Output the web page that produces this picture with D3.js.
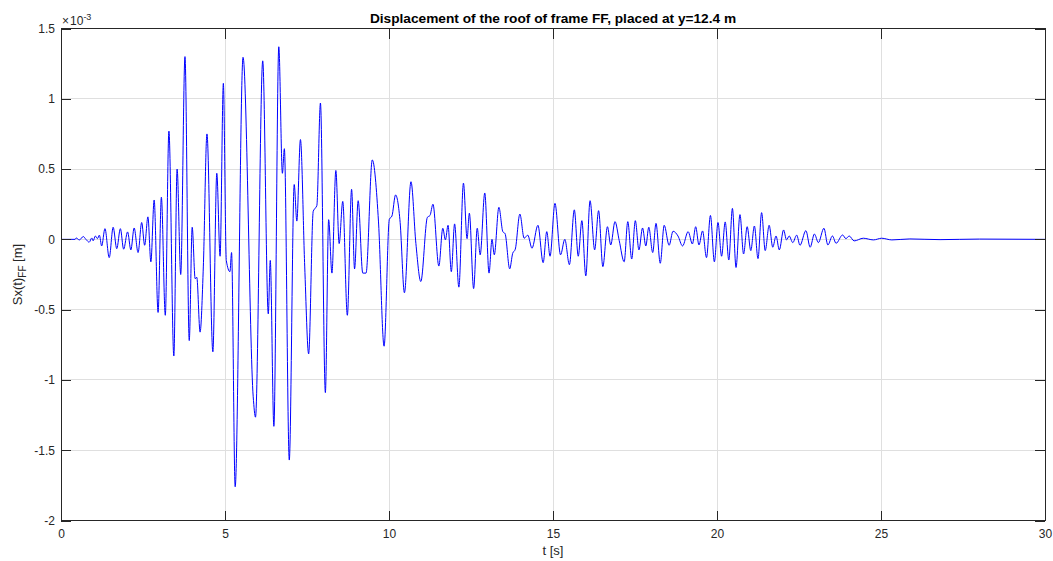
<!DOCTYPE html>
<html>
<head>
<meta charset="utf-8">
<script src="https://cdn.jsdelivr.net/npm/d3@7"></script>
<style>
  body { margin: 0; background: #fff; }
  svg text { font-family: "Liberation Sans", Arial, Helvetica, sans-serif; fill: #262626; }
</style>
</head>
<body>
<svg id="chart" width="1053" height="561"></svg>
<script>
// Roof displacement of frame FF (values in 1e-3 m)

const timeS = [
  0, 0.43, 0.46, 0.56, 0.68, 0.76, 0.86, 0.94, 0.98, 1.05, 1.11, 1.17, 1.24, 1.34, 1.47, 1.59,
  1.70, 1.81, 1.91, 2.03, 2.13, 2.23, 2.35, 2.46, 2.55, 2.65, 2.74, 2.84, 2.96, 3.06, 3.18, 3.29,
  3.44, 3.54, 3.65, 3.78, 3.91, 4.00, 4.09, 4.14, 4.24, 4.34, 4.45, 4.63, 4.75, 4.85, 4.95, 5.04,
  5.15, 5.20, 5.31, 5.55, 5.86, 5.93, 6.15, 6.32, 6.38, 6.49, 6.64, 6.75, 6.81, 6.96, 7.11, 7.19,
  7.30, 7.43, 7.55, 7.69, 7.80, 7.91, 8.06, 8.16, 8.26, 8.38, 8.48, 8.59, 8.73, 8.86, 8.95, 9.06,
  9.20, 9.30, 9.49, 9.68, 9.85, 10.01, 10.09, 10.20, 10.34, 10.47, 10.67, 10.82, 10.97, 11.17, 11.25, 11.34,
  11.52, 11.64, 11.72, 11.80, 11.90, 12.00, 12.13, 12.27, 12.38, 12.45, 12.58, 12.69, 12.78, 12.92, 13.05, 13.14,
  13.21, 13.35, 13.47, 13.54, 13.68, 13.77, 13.85, 13.99, 14.12, 14.23, 14.36, 14.54, 14.70, 14.81, 14.91, 15.06,
  15.23, 15.36, 15.50, 15.65, 15.77, 15.88, 16.00, 16.13, 16.27, 16.39, 16.52, 16.66, 16.76, 16.89, 17.02, 17.17,
  17.28, 17.40, 17.51, 17.62, 17.73, 17.83, 17.92, 18.04, 18.14, 18.27, 18.39, 18.54, 18.66, 18.81, 18.95, 19.12,
  19.25, 19.35, 19.45, 19.56, 19.68, 19.80, 19.92, 20.03, 20.14, 20.25, 20.36, 20.47, 20.58, 20.70, 20.81, 20.92,
  21.03, 21.14, 21.25, 21.36, 21.47, 21.59, 21.70, 21.80, 21.90, 22.03, 22.12, 22.20, 22.31, 22.43, 22.53, 22.71,
  22.84, 22.97, 23.09, 23.26, 23.38, 23.52, 23.63, 23.83, 23.93, 24.03, 24.18, 24.46, 24.77, 25.02, 25.33, 25.88,
  26.8, 28.0, 30
];

const dispE3 = [
  0, 0, 0.01, -0.004, 0.02, 0, -0.02, 0.01, -0.01, 0.024, 0.005, 0.03, -0.047, 0.076, -0.13, 0.086,
  -0.066, 0.076, -0.07, 0.053, -0.075, 0.081, -0.094, 0.12, -0.042, 0.16, -0.16, 0.28, -0.52, 0.30, -0.54, 0.77,
  -0.83, 0.50, -0.25, 1.30, -0.72, 0.086, -0.28, -0.27, -0.66, -0.19, 0.75, -0.80, 0.47, -0.12, 1.11, -0.15,
  -0.23, -0.094, -1.76, 1.295, -1.12, -1.265, 1.27, -0.53, -0.15, -1.33, 1.37, 0.47, 0.645, -1.57, 0.39, 0.13,
  0.71, -0.19, -0.815, 0.20, 0.24, 0.97, -1.09, 0.14, -0.24, 0.49, -0.03, 0.27, -0.54, 0.356, -0.21, 0.275,
  -0.24, -0.24, 0.565, 0.124, -0.76, 0.143, 0.166, 0.316, 0.12, -0.38, 0.41, -0.03, -0.30, 0.157, 0.17, 0.25,
  -0.19, 0.079, -0.004, 0.10, -0.23, 0.11, -0.34, 0.40, 0.005, 0.186, -0.35, 0.079, -0.11, 0.33, -0.24, 0.0,
  -0.11, 0.228, 0.055, 0.04, -0.21, -0.10, -0.07, 0.18, 0.008, 0.03, -0.063, 0.10, -0.166, 0.055, -0.12, 0.256,
  -0.11, 0.0, -0.18, 0.21, -0.12, 0.133, -0.26, 0.275, -0.075, 0.204, -0.194, 0.09, -0.04, 0.126, -0.01, -0.16,
  0.126, -0.14, 0.133, -0.075, 0.081, -0.047, 0.086, -0.094, 0.114, -0.17, 0.10, -0.042, 0.058, 0.024, -0.047, 0.055,
  -0.033, 0.09, -0.04, 0.06, -0.13, 0.17, -0.16, 0.12, -0.12, 0.124, -0.147, 0.22, -0.20, 0.176, -0.104, 0.09,
  -0.08, 0.095, -0.137, 0.19, -0.08, 0.10, -0.056, 0.024, -0.075, 0.067, -0.004, 0.024, -0.023, 0.03, -0.042, 0.062,
  -0.056, 0.038, -0.023, 0.079, -0.04, 0.024, -0.028, 0.031, 0.005, 0.024, -0.011, 0.008, -0.004, 0.008, -0.004, 0.003,
  -0.002, 0.002, 0
];

const xTicks = [0, 5, 10, 15, 20, 25, 30];
const yTicks = [-2, -1.5, -1, -0.5, 0, 0.5, 1, 1.5];

const TITLE = "Displacement of the roof of frame FF, placed at y=12.4 m";

// Layout
const LEFT = 61, RIGHT = 1045, TOP = 28.5, BOTTOM = 520.5;
const TICK_LEN = 10;
const AXIS_COLOR = "#262626";
const GRID_COLOR = "#dfdfdf";

const svg = d3.select("#chart");

const x = d3.scaleLinear().domain([0, 30]).range([LEFT, RIGHT]);
const y = d3.scaleLinear().domain([-2, 1.5]).range([BOTTOM, TOP]);

const points = timeS.map((t, i) => ({ t: t, v: dispE3[i] }));

// Grid
const grid = svg.append("g").attr("class", "grid");
grid.selectAll("line.gx")
  .data(xTicks)
  .join("line")
  .attr("x1", d => x(d)).attr("x2", d => x(d))
  .attr("y1", TOP).attr("y2", BOTTOM)
  .attr("stroke", GRID_COLOR).attr("stroke-width", 1)
  .attr("shape-rendering", "crispEdges");
grid.selectAll("line.gy")
  .data(yTicks)
  .join("line")
  .attr("y1", d => y(d)).attr("y2", d => y(d))
  .attr("x1", LEFT).attr("x2", RIGHT)
  .attr("stroke", GRID_COLOR).attr("stroke-width", 1)
  .attr("shape-rendering", "crispEdges");

// Signal
const line = d3.line()
  .x(d => x(d.t))
  .y(d => y(d.v))
  .curve(d3.curveMonotoneX);

svg.append("path")
  .datum(points)
  .attr("fill", "none")
  .attr("stroke", "#0000ff")
  .attr("stroke-width", 1)
  .attr("stroke-linejoin", "round")
  .attr("d", line);

// Axes (ticks pointing inward, on all four sides)
const fmt = d => String(d);

function styleAxis(g) {
  g.select(".domain").remove();
  g.selectAll(".tick line").attr("stroke", AXIS_COLOR).attr("shape-rendering", "crispEdges");
  g.selectAll(".tick text")
    .attr("fill", AXIS_COLOR)
    .style("font-size", "12px")
    .style("font-family", "'Liberation Sans', Arial, sans-serif");
}

svg.append("g")
  .attr("transform", `translate(0,${BOTTOM})`)
  .call(d3.axisBottom(x).tickValues(xTicks).tickFormat(fmt).tickSize(-TICK_LEN).tickPadding(9))
  .call(styleAxis);

svg.append("g")
  .attr("transform", `translate(0,${TOP})`)
  .call(d3.axisTop(x).tickValues(xTicks).tickFormat("").tickSize(-TICK_LEN))
  .call(styleAxis);

svg.append("g")
  .attr("transform", `translate(${LEFT},0)`)
  .call(d3.axisLeft(y).tickValues(yTicks).tickFormat(fmt).tickSize(-TICK_LEN).tickPadding(6))
  .call(styleAxis);

svg.append("g")
  .attr("transform", `translate(${RIGHT},0)`)
  .call(d3.axisRight(y).tickValues(yTicks).tickFormat("").tickSize(-TICK_LEN))
  .call(styleAxis);

// Box
svg.append("rect")
  .attr("x", LEFT).attr("y", TOP)
  .attr("width", RIGHT - LEFT).attr("height", BOTTOM - TOP)
  .attr("fill", "none")
  .attr("stroke", AXIS_COLOR)
  .attr("stroke-width", 1)
  .attr("shape-rendering", "crispEdges");

// Exponent marker
const expo = svg.append("text")
  .attr("x", LEFT + 1).attr("y", 25)
  .style("font-size", "12px");
expo.append("tspan").text("\u00d7");
expo.append("tspan").attr("dx", 1).text("10");
expo.append("tspan").attr("dy", -5).style("font-size", "9px").text("-3");

// Title
svg.append("text")
  .attr("x", (LEFT + RIGHT) / 2).attr("y", 23)
  .attr("text-anchor", "middle")
  .style("font-size", "13.7px")
  .style("font-weight", "bold")
  .style("fill", "#000")
  .text(TITLE);

// Axis labels
svg.append("text")
  .attr("x", (LEFT + RIGHT) / 2).attr("y", 555)
  .attr("text-anchor", "middle")
  .style("font-size", "13px")
  .text("t [s]");

const ylab = svg.append("text")
  .attr("transform", `translate(22,${(TOP + BOTTOM) / 2}) rotate(-90)`)
  .attr("text-anchor", "middle")
  .style("font-size", "13px");
ylab.append("tspan").text("Sx(t)");
ylab.append("tspan").attr("dy", 4).style("font-size", "10px").text("FF");
ylab.append("tspan").attr("dy", -4).text(" [m]");
</script>
</body>
</html>
